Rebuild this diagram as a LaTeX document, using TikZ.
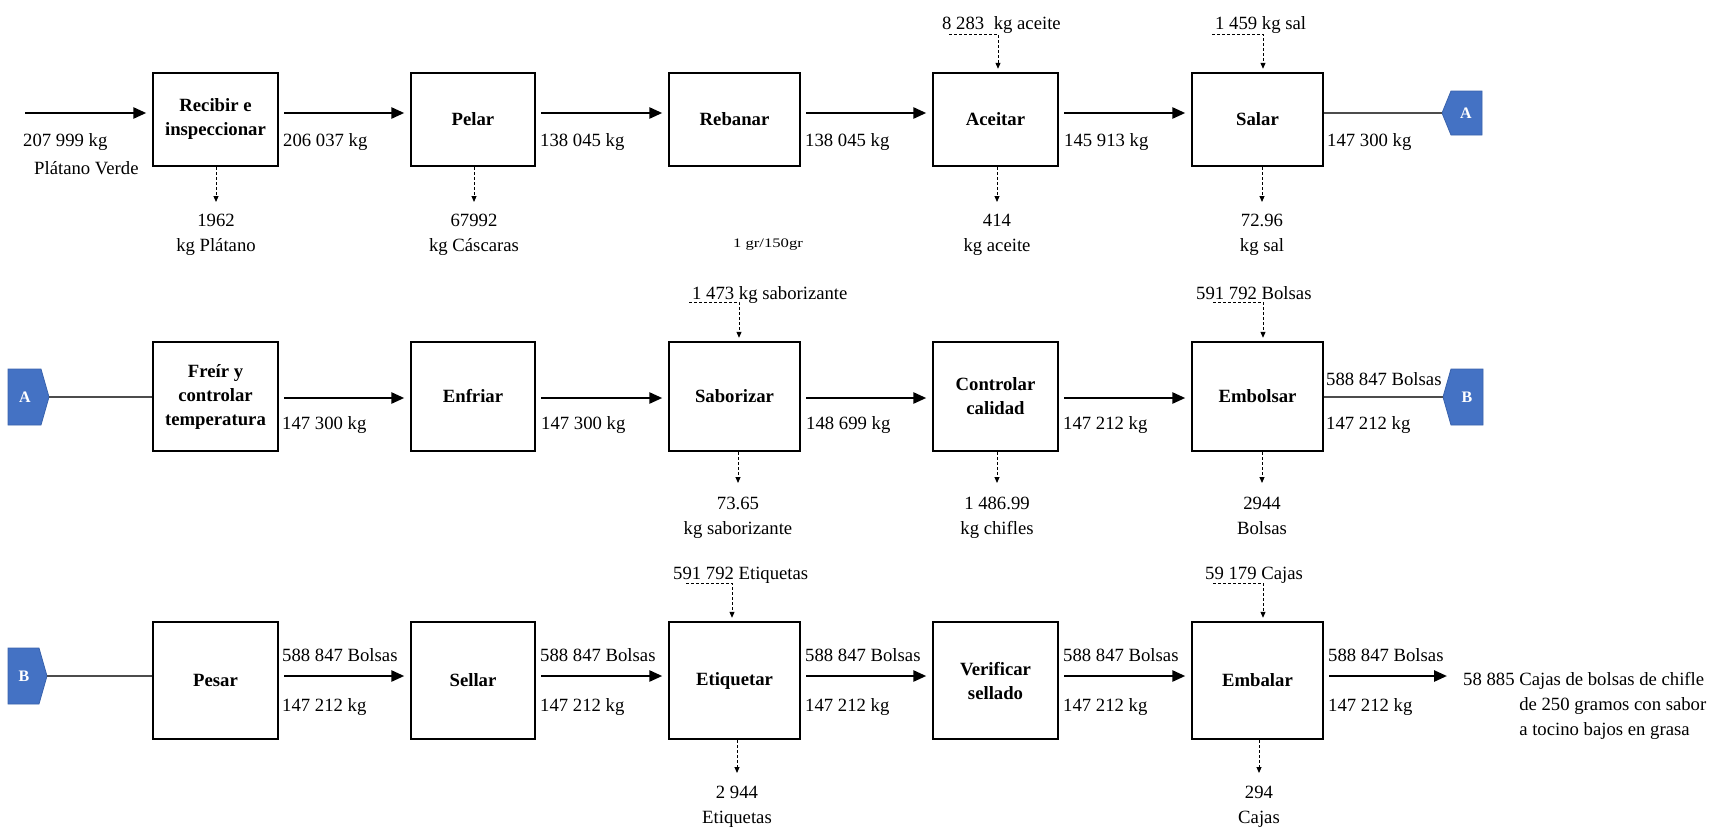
\documentclass[tikz,border=0pt]{standalone}
\usepackage{fontspec}
\setmainfont{Liberation Serif}
\usetikzlibrary{arrows.meta,calc}
\definecolor{connblue}{HTML}{4472C4}
\definecolor{connedge}{HTML}{3A63AD}
\begin{document}
\begin{tikzpicture}[x=1pt,y=-1pt,
  every node/.style={inner sep=0pt, font=\fontsize{18.7}{25}\selectfont},
  proc/.style={draw, line width=2.4pt, align=center,
    font=\fontsize{18.7}{24}\selectfont\bfseries},
  cA/.style={minimum width=125pt},
  cB/.style={minimum width=124pt},
  cC/.style={minimum width=131pt},
  hA/.style={minimum height=93pt},
  hB/.style={minimum height=109pt},
  hC/.style={minimum height=117pt},
  flow/.style={line width=2.6pt, -{Triangle[length=13pt,width=11pt]},
    shorten <=5pt, shorten >=5.5pt},
  link/.style={line width=1.3pt, draw=black!70},
  side/.style={line width=1pt, dash pattern=on 3pt off 2pt,
    -{Triangle[length=6pt,width=5pt]}},
  sidein/.style={side, shorten >=3pt},
  qty/.style={anchor=base west},
  outl/.style={anchor=north, align=center},
  conn/.style={fill=connblue, draw=connedge, line width=0.8pt},
  lettr/.style={text=white, font=\fontsize{16}{18}\selectfont\bfseries},
]
\useasboundingbox (0,0) rectangle (1713,827);
\fill[white] (0,0) rectangle (1713,827);

% ---------- first line of the process ----------
\node[proc,cA,hA] (rec) at (215.5,119.5) {Recibir e\\inspeccionar};
\node[proc,cB,hA] (pel) at (473,119.5) {Pelar};
\node[proc,cC,hA] (reb) at (734.5,119.5) {Rebanar};
\node[proc,cA,hA] (ace) at (995.5,119.5) {Aceitar};
\node[proc,cC,hA] (sal) at (1257.5,119.5) {Salar};

\coordinate (in1) at (25,113);
\draw[flow, shorten <=0pt] (in1) -- (rec.west |- in1);
\draw[flow] (rec.east |- in1) -- (pel.west |- in1);
\draw[flow] (pel.east |- in1) -- (reb.west |- in1);
\draw[flow] (reb.east |- in1) -- (ace.west |- in1);
\draw[flow] (ace.east |- in1) -- (sal.west |- in1);

\node[qty] (q11) at (23,146) {207 999 kg};
\node[qty] (q12) at (34,174) {Plátano Verde};
\node[qty] (q13) at (283,146) {206 037 kg};
\node[qty] (q14) at (540,146) {138 045 kg};
\node[qty] (q15) at (805,146) {138 045 kg};
\node[qty] (q16) at (1064,146) {145 913 kg};
\node[qty] (q17) at (1327,146) {147 300 kg};

% additions from above
\node[qty] (t14) at (942,29) {8 283\hspace{9.5pt}kg aceite};
\coordinate (s14) at (949,34);
\draw[sidein] (s14) -| ([xshift=2.5pt]ace.north);
\node[qty] (t15) at (1215,29) {1 459 kg sal};
\coordinate (s15) at (1212,34);
\draw[sidein] (s15) -| ([xshift=5.5pt]sal.north);

% losses below
\node[outl] (o11) at (216,214) {1962\\kg Plátano};
\node[outl] (o12) at (474,214) {67992\\kg Cáscaras};
\node[outl] (o14) at (997,214) {414\\kg aceite};
\node[outl] (o15) at (1262,214) {72.96\\kg sal};
\foreach \b/\o in {rec/o11, pel/o12, ace/o14, sal/o15}
  \draw[side, shorten >=12pt] (\o.north |- \b.south) -- (\o.north);
\node[font=\fontsize{13}{15}\selectfont] (ratio) at (768,245)
  {\scalebox{1.28}[1]{1 gr/150gr}};

% connector A
\coordinate (A1) at (1442,113);
\filldraw[conn] (A1) -- ++(9,-22) -- ++(31,0) -- ++(0,44) -- ++(-31,0) -- cycle;
\node[lettr] (A1l) at (1466,113) {A};
\draw[link] (sal.east |- A1) -- (A1);

% ---------- second line of the process ----------
\node[proc,cA,hB] (fre) at (215.5,396.5) {Freír y\\controlar\\temperatura};
\node[proc,cB,hB] (enf) at (473,396.5) {Enfriar};
\node[proc,cC,hB] (sab) at (734.5,396.5) {Saborizar};
\node[proc,cA,hB] (cal) at (995.5,396.5) {Controlar\\calidad};
\node[proc,cC,hB] (emb) at (1257.5,396.5) {Embolsar};

\coordinate (y2) at (0,398);
\draw[flow] (fre.east |- y2) -- (enf.west |- y2);
\draw[flow] (enf.east |- y2) -- (sab.west |- y2);
\draw[flow] (sab.east |- y2) -- (cal.west |- y2);
\draw[flow] (cal.east |- y2) -- (emb.west |- y2);

\node[qty] (q21) at (282,429) {147 300 kg};
\node[qty] (q22) at (541,429) {147 300 kg};
\node[qty] (q23) at (806,429) {148 699 kg};
\node[qty] (q24) at (1063,429) {147 212 kg};
\node[qty] (q25) at (1326,429) {147 212 kg};
\node[qty] (q26) at (1326,385) {588 847 Bolsas};

\node[qty] (t23) at (692,299) {1 473 kg saborizante};
\coordinate (s23) at (689,302);
\draw[sidein] (s23) -| ([xshift=4.5pt]sab.north);
\node[qty] (t25) at (1196,299) {591 792 Bolsas};
\coordinate (s25) at (1213,302);
\draw[sidein] (s25) -| ([xshift=5.5pt]emb.north);

\node[outl] (o23) at (738,497) {73.65\\kg saborizante};
\node[outl] (o24) at (997,497) {1 486.99\\kg chifles};
\node[outl] (o25) at (1262,497) {2944\\Bolsas};
\foreach \b/\o in {sab/o23, cal/o24, emb/o25}
  \draw[side, shorten >=14pt] (\o.north |- \b.south) -- (\o.north);

% connector A (arrival) and connector B (departure)
\coordinate (A2) at (49,397);
\filldraw[conn] (A2) -- ++(-8,-28) -- ++(-33,0) -- ++(0,56) -- ++(33,0) -- cycle;
\node[lettr] (A2l) at (25,397) {A};
\draw[link] (A2) -- (fre.west |- A2);

\coordinate (B1) at (1443,397);
\filldraw[conn] (B1) -- ++(8,-28) -- ++(32,0) -- ++(0,56) -- ++(-32,0) -- cycle;
\node[lettr] (B1l) at (1467,397) {B};
\draw[link] (emb.east |- B1) -- (B1);

% ---------- third line of the process ----------
\node[proc,cA,hC] (pes) at (215.5,680.5) {Pesar};
\node[proc,cB,hC] (sel) at (473,680.5) {Sellar};
\node[proc,cC,hC] (eti) at (734.5,680.5) {Etiquetar};
\node[proc,cA,hC] (ver) at (995.5,680.5) {Verificar\\sellado};
\node[proc,cC,hC] (ebl) at (1257.5,680.5) {Embalar};

\coordinate (y3) at (0,676);
\draw[flow] (pes.east |- y3) -- (sel.west |- y3);
\draw[flow] (sel.east |- y3) -- (eti.west |- y3);
\draw[flow] (eti.east |- y3) -- (ver.west |- y3);
\draw[flow] (ver.east |- y3) -- (ebl.west |- y3);
\coordinate (fout) at (1447,676);
\draw[flow, shorten >=0pt] (ebl.east |- fout) -- (fout);

\foreach \x/\n in {282/1, 540/2, 805/3, 1063/4, 1328/5} {
  \node[qty] (u3\n) at (\x,661) {588 847 Bolsas};
  \node[qty] (d3\n) at (\x,711) {147 212 kg};
}

\node[qty] (t33) at (673,579) {591 792 Etiquetas};
\coordinate (s33) at (686,583);
\draw[sidein] (s33) -| ([xshift=-2.5pt]eti.north);
\node[qty] (t35) at (1205,579) {59 179 Cajas};
\coordinate (s35) at (1213,583);
\draw[sidein] (s35) -| ([xshift=5.5pt]ebl.north);

\node[outl] (o33) at (737,786) {2 944\\Etiquetas};
\node[outl] (o35) at (1259,786) {294\\Cajas};
\foreach \b/\o in {eti/o33, ebl/o35}
  \draw[side, shorten >=13pt] (\o.north |- \b.south) -- (\o.north);

\node[anchor=base west] (fin) at (1463,685)
  {\begin{tabular}[t]{@{}l@{\ }l@{}}58 885 & Cajas de bolsas de chifle\\
   & de 250 gramos con sabor\\ & a tocino bajos en grasa\end{tabular}};

% connector B (arrival)
\coordinate (B2) at (47,676);
\filldraw[conn] (B2) -- ++(-8,-28) -- ++(-31,0) -- ++(0,56) -- ++(31,0) -- cycle;
\node[lettr] (B2l) at (24,676) {B};
\draw[link] (B2) -- (pes.west |- B2);
\end{tikzpicture}
\end{document}
